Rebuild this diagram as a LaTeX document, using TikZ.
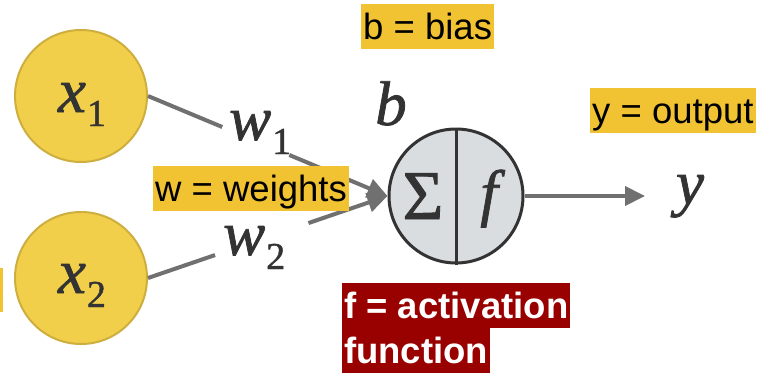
\documentclass[tikz,border=0pt]{standalone}
\usepackage{fontspec}
\setmainfont{Liberation Sans}
\newfontfamily\mserif{Liberation Serif}[FakeBold=1.2]
\usetikzlibrary{arrows.meta,calc}
\definecolor{hl}{HTML}{F1C232}
\definecolor{dred}{HTML}{990000}
\definecolor{circy}{HTML}{F2CF4A}
\definecolor{circb}{HTML}{CDAE3E}
\definecolor{lgray}{HTML}{707070}
\definecolor{ink}{HTML}{333333}
\definecolor{nfill}{HTML}{D9DDE0}
\newcommand\msub[2]{{\itshape #1}\kern1pt\raisebox{-14pt}{\fontsize{38}{38}\selectfont\upshape #2}}
\begin{document}
\begin{tikzpicture}[x=1pt,y=-1pt,
  inp/.style={circle,draw=circb,line width=2pt,fill=circy,minimum size=132pt,inner sep=0pt},
  neuron/.style={circle,draw=ink,line width=3pt,fill=nfill,minimum size=134pt,inner sep=0pt},
  mlab/.style={text=ink,font=\mserif\fontsize{63}{63}\selectfont,inner sep=0pt},
  conn/.style={draw=lgray,line width=4pt},
  arr/.style={conn,-{Triangle[length=20pt,width=19pt]}},
  hlbox/.style={anchor=north west,fill=hl,text=black,font=\fontsize{36.5}{36.5}\selectfont,
    inner xsep=2pt,inner ysep=0pt,text height=35pt,text depth=9.5pt},
  redbox/.style={hlbox,fill=dred,text=white,font=\bfseries\fontsize{36.5}{36.5}\selectfont}
]
\useasboundingbox (0,0) rectangle (767,372);
\fill[white] (0,0) rectangle (767,372);

% cut-off highlight at left edge
\fill[hl] (0,268) rectangle (3,312);

% nodes
\node[inp] (x1) at (81,96) {};
\node[inp] (x2) at (81,278) {};
\node[neuron] (n) at (456,196) {};
\draw[ink,line width=3pt] (n.north) -- (n.south);

% connectors
\draw[conn] (x1.east) -- ($(x1.east)!0.31!(n.west)$);
\draw[arr] ($(x1.east)!0.59!(n.west)$) -- (n.west);
\draw[conn] (x2.east) -- ($(x2.east)!0.28!(n.west)$);
\draw[arr] ($(x2.east)!0.67!(n.west)$) -- (n.west);
\coordinate (yend) at (645,196);
\draw[arr] (n.east) -- (yend);

% math labels
\node[mlab,anchor=base] (lx1) at (82,112) {\msub{x}{1}};
\node[mlab,anchor=base] (lx2) at (82,293) {\msub{x}{2}};
\node[mlab,anchor=base west] (lw1) at (229,140) {\msub{w}{1}};
\node[mlab,anchor=base west] (lw2) at (223,255) {\msub{w}{2}};
\node[mlab,anchor=base] (lb) at (391,125) {\itshape b};
\node[mlab,anchor=base] (lsig) at (423,219) {\fontsize{70}{70}\selectfont Σ};
\node[mlab,anchor=base] (lf) at (489,214) {\itshape f};
\node[mlab,anchor=base] (ly) at (690,204) {\itshape y};

% highlighted notes
\node[hlbox] (tb) at (361,4) {b = bias};
\node[hlbox] (tw) at (153,166) {w = weights};
\node[hlbox] (ty) at (590,88) {y = output};
\node[redbox] (tf1) at (342,283) {f = activation};
\node[redbox] (tf2) at (342,328) {function};
\end{tikzpicture}
\end{document}
